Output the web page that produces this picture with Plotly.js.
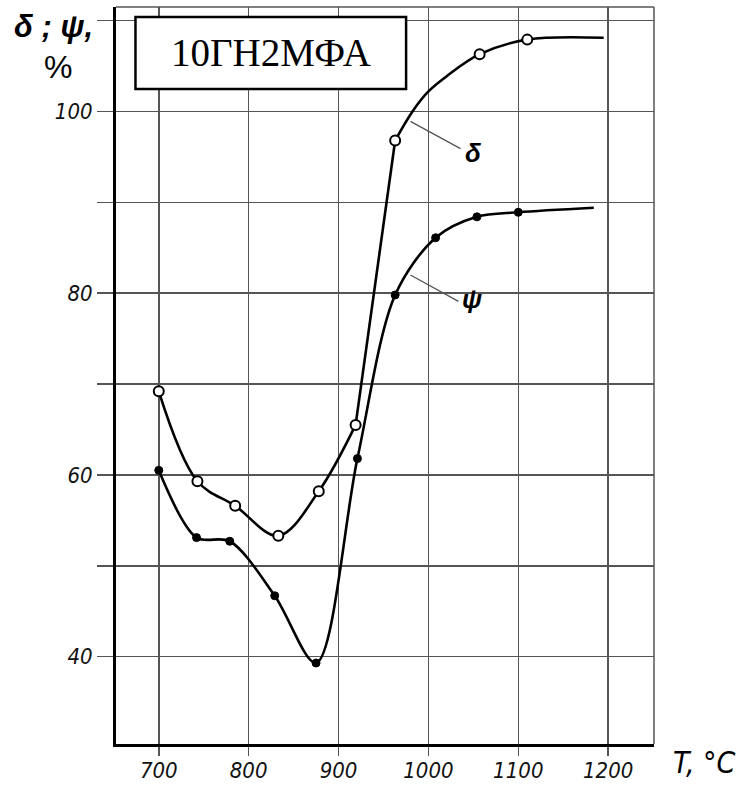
<!DOCTYPE html>
<html>
<head>
<meta charset="utf-8">
<script src="https://cdn.plot.ly/plotly-3.0.1.min.js"></script>
<style>html,body{margin:0;padding:0;background:#fff;}#chart{width:738px;height:785px;}</style>
</head>
<body>
<div id="chart"></div>
<script>
// δ (elongation), open circles
const deltaT = [700, 743, 785, 833, 878, 919, 963, 1057, 1110];
const deltaV = [69.2, 59.3, 56.6, 53.3, 58.2, 65.5, 96.8, 106.3, 107.9];
const deltaPathT = [983, 1000, 1020];
const deltaPathV = [100.1, 102.2, 103.85];
const deltaEndT = 1195;
const deltaEndV = 108.1;

// ψ (reduction of area), filled circles
const psiT = [700, 742, 779, 829, 875, 921, 963, 1008, 1054, 1100];
const psiV = [60.5, 53.1, 52.7, 46.7, 39.3, 61.8, 79.8, 86.1, 88.4, 88.9];
const psiEndT = 1184;
const psiEndV = 89.4;

const xTicks = [700, 800, 900, 1000, 1100, 1200];
const yTicks = [40, 50, 60, 70, 80, 90, 100, 110];
const yTickText = ['40', '', '60', '', '80', '', '100', ''];

const steelGrade = '10ГН2МФА';

const narrow = 'Liberation Sans Narrow, DejaVu Sans Condensed, sans-serif';
const tickFont = {family: narrow, size: 22, color: '#111', style: 'italic'};
const gridCol = '#555';
const curveLine = {color: '#000', width: 2.6};

// δ curve: smooth up to 919 °C, near-straight steep rise 919–963 °C, smooth after
const dLow = {x: deltaT.slice(0, 6), y: deltaV.slice(0, 6)};
const dRise = {x: deltaT.slice(5, 7), y: deltaV.slice(5, 7)};
const dHigh = {
  x: [deltaT[6]].concat(deltaPathT, deltaT.slice(7), [deltaEndT]),
  y: [deltaV[6]].concat(deltaPathV, deltaV.slice(7), [deltaEndV])
};

const traces = [
  {x: dLow.x, y: dLow.y, mode: 'lines', line: Object.assign({shape: 'spline', smoothing: 1}, curveLine)},
  {x: dRise.x, y: dRise.y, mode: 'lines', line: Object.assign({shape: 'linear'}, curveLine)},
  {x: dHigh.x, y: dHigh.y, mode: 'lines', line: Object.assign({shape: 'spline', smoothing: 1}, curveLine)},
  {x: psiT.concat([psiEndT]), y: psiV.concat([psiEndV]), mode: 'lines',
   line: Object.assign({shape: 'spline', smoothing: 0.9}, curveLine)},
  {x: deltaT, y: deltaV, mode: 'markers',
   marker: {symbol: 'circle', size: 10, color: '#fff', line: {color: '#000', width: 2}}},
  {x: psiT, y: psiV, mode: 'markers',
   marker: {symbol: 'circle', size: 8, color: '#000', line: {color: '#000', width: 1}}}
];

const layout = {
  width: 738, height: 785,
  margin: {l: 116, r: 84, t: 7, b: 41},
  paper_bgcolor: '#fff', plot_bgcolor: '#fff',
  showlegend: false,
  xaxis: {
    range: [652.4, 1251], tickvals: xTicks, ticktext: xTicks.map(String),
    showgrid: true, gridcolor: gridCol, gridwidth: 1.5, zeroline: false,
    showline: true, linecolor: '#000', linewidth: 3,
    ticks: 'outside', ticklen: 9, tickcolor: gridCol, tickwidth: 1.5,
    ticklabelstandoff: -4,
    tickfont: tickFont
  },
  yaxis: {
    range: [30.39, 111.49], tickvals: yTicks, ticktext: yTickText,
    showgrid: true, gridcolor: gridCol, gridwidth: 1.5, zeroline: false,
    showline: true, linecolor: '#000', linewidth: 3,
    ticks: 'outside', ticklen: 16, tickcolor: gridCol, tickwidth: 1.5,
    tickfont: tickFont
  },
  shapes: [
    {type: 'line', xref: 'paper', yref: 'paper', x0: 0, x1: 1, y0: 1, y1: 1, line: {color: gridCol, width: 1.5}},
    {type: 'line', xref: 'paper', yref: 'paper', x0: 1, x1: 1, y0: 0, y1: 1, line: {color: gridCol, width: 1.5}},
    {type: 'rect', xref: 'paper', yref: 'paper', x0: 0.0362, x1: 0.5392, y0: 0.8887, y1: 0.9865,
     fillcolor: '#fff', line: {color: '#000', width: 2.5}, layer: 'above'},
    {type: 'line', xref: 'x', yref: 'y', x0: 980, y0: 98.9, x1: 1035.7, y1: 95.9, line: {color: '#555', width: 1.3}},
    {type: 'line', xref: 'x', yref: 'y', x0: 980, y0: 82.0, x1: 1033.4, y1: 79.1, line: {color: '#555', width: 1.3}}
  ],
  annotations: [
    {text: steelGrade, xref: 'paper', yref: 'paper', x: 0.2877, y: 0.9376, xanchor: 'center', yanchor: 'middle',
     showarrow: false, font: {family: 'Liberation Serif, Times New Roman, serif', size: 39, color: '#000'}},
    {text: 'δ', xref: 'x', yref: 'y', x: 1050, y: 95.4, xanchor: 'center', yanchor: 'middle', showarrow: false,
     font: {family: 'Liberation Sans, Arial, sans-serif', size: 26, color: '#000', weight: 'bold', style: 'italic'}},
    {text: 'ψ', xref: 'x', yref: 'y', x: 1049, y: 79.4, xanchor: 'center', yanchor: 'middle', showarrow: false,
     font: {family: 'Liberation Sans, Arial, sans-serif', size: 26, color: '#000', weight: 'bold', style: 'italic'}},
    {text: 'δ ; ψ,', xref: 'paper', yref: 'paper', x: -0.193, y: 0.973, xanchor: 'left', yanchor: 'middle', showarrow: false,
     font: {family: 'Liberation Sans, Arial, sans-serif', size: 31, color: '#000', weight: 'bold', style: 'italic'}},
    {text: '%', xref: 'paper', yref: 'paper', x: -0.108, y: 0.918, xanchor: 'center', yanchor: 'middle', showarrow: false,
     font: {family: 'Liberation Sans, Arial, sans-serif', size: 32, color: '#000'}},
    {text: 'T, °C', xref: 'paper', yref: 'paper', x: 1.032, y: -0.025, xanchor: 'left', yanchor: 'middle', showarrow: false,
     font: {family: narrow, size: 30, color: '#000', style: 'italic'}}
  ]
};

Plotly.newPlot('chart', traces, layout, {displayModeBar: false, staticPlot: true});
</script>
</body>
</html>
